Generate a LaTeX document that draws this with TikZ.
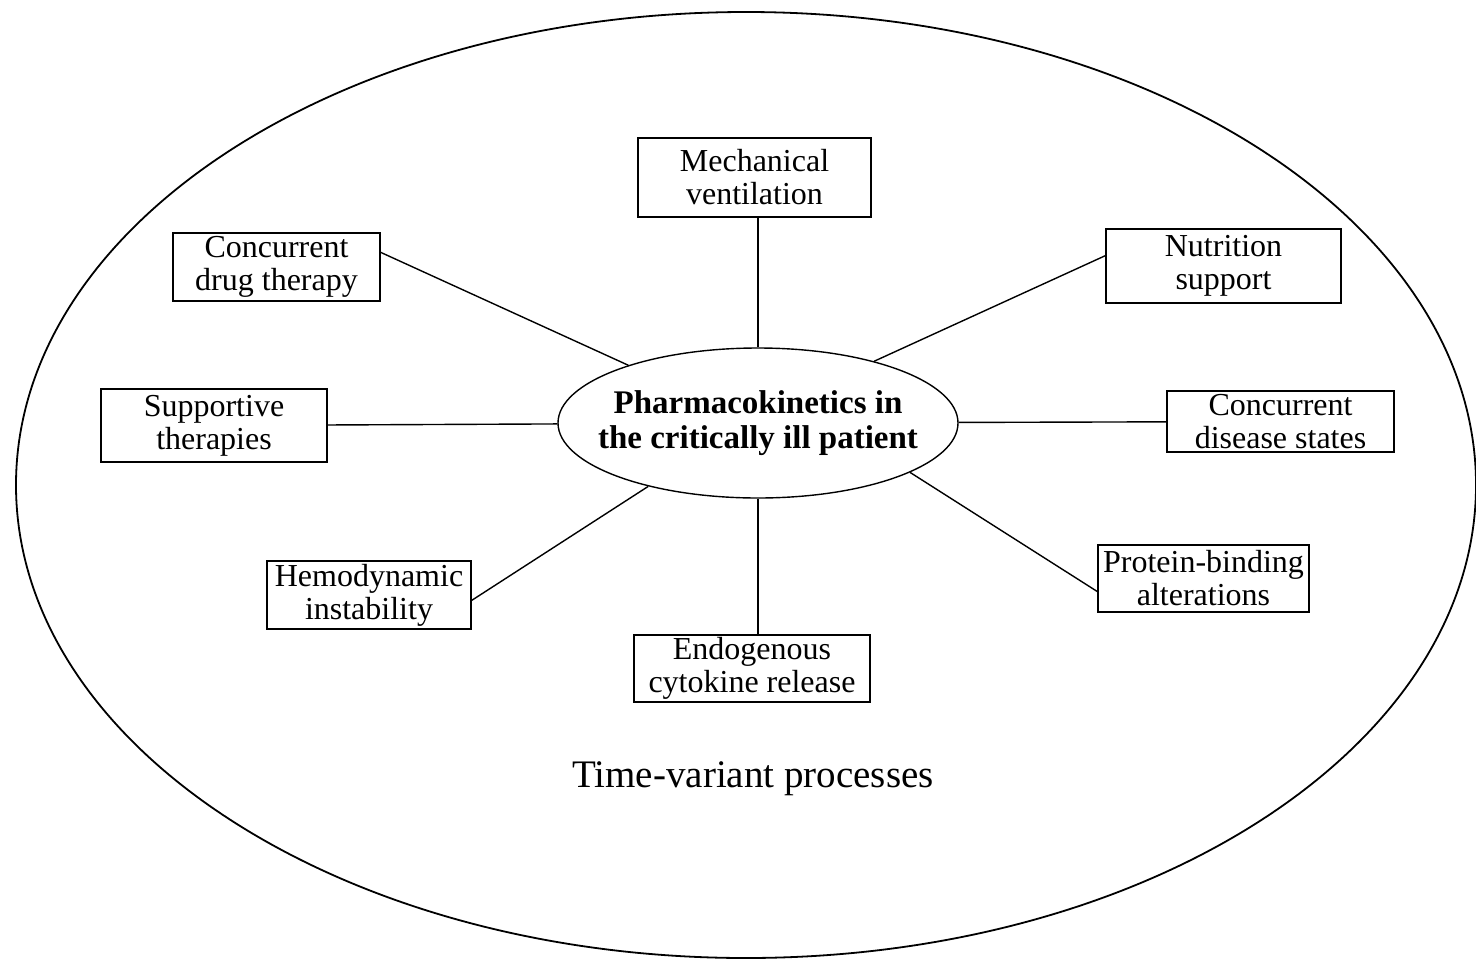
\documentclass[tikz,border=0pt]{standalone}
\usepackage{fontspec}
\setmainfont{Liberation Serif}
\usetikzlibrary{calc,shapes.geometric}
\tikzset{
	factor/.style={draw, line width=0.7pt, align=center, inner sep=0pt,
		font=\fontsize{16}{16.5}\selectfont},
	pkcore/.style={draw, ellipse, line width=0.7pt, align=center, inner xsep=-10pt, inner ysep=0pt,
		minimum width=200pt, minimum height=75pt,
		font=\fontsize{16.5}{17.5}\selectfont\bfseries}
}

\begin{document}
\begin{tikzpicture}[x=0.5pt,y=-0.5pt,line width=0.7pt]
		\useasboundingbox (0,0) rectangle (1476,959);
		\draw[line width=0.9pt] (746,485) ellipse [x radius=365pt, y radius=236.5pt];
		\node[pkcore] (pk) at (758,423) {Pharmacokinetics in\\the critically ill patient};
		\node[factor, minimum width=116.5pt, minimum height=39.5pt] (mech) at (754.5,177.5) {Mechanical\\ventilation};
		\node[factor, minimum width=103.5pt, minimum height=34pt] (drug) at (276.5,267) {Concurrent\\drug therapy};
		\node[factor, minimum width=117.5pt, minimum height=37pt] (nutr) at (1223.5,266) {Nutrition\\support};
		\node[factor, minimum width=113pt, minimum height=36.5pt] (supp) at (214,425.5) {Supportive\\therapies};
		\node[factor, minimum width=113.5pt, minimum height=30.5pt] (dis) at (1280.5,421.5) {Concurrent\\disease states};
		\node[factor, minimum width=102pt, minimum height=34pt] (hemo) at (369,595) {Hemodynamic\\instability};
		\node[factor, minimum width=105.5pt, minimum height=33.5pt] (prot) at (1203.5,578.5) {Protein-binding\\alterations};
		\node[factor, minimum width=118pt, minimum height=33.5pt] (endo) at (752,668.5) {Endogenous\\cytokine release};
		\node[font=\fontsize{19.5}{21}\selectfont] (tvp) at (753,779) {Time-variant processes};
		\draw (pk.north) -- (pk.north |- mech.south);
		\draw (pk.south) -- (pk.south |- endo.north);
		\draw (drug.8) -- (pk.156);
		\draw (nutr.175) -- (pk.28);
		\draw (supp) -- (pk);
		\draw (dis) -- (pk);
		\draw (hemo.-3) -- (pk.210);
		\draw (prot.187) -- (pk.342);
		\end{tikzpicture}
\end{document}
